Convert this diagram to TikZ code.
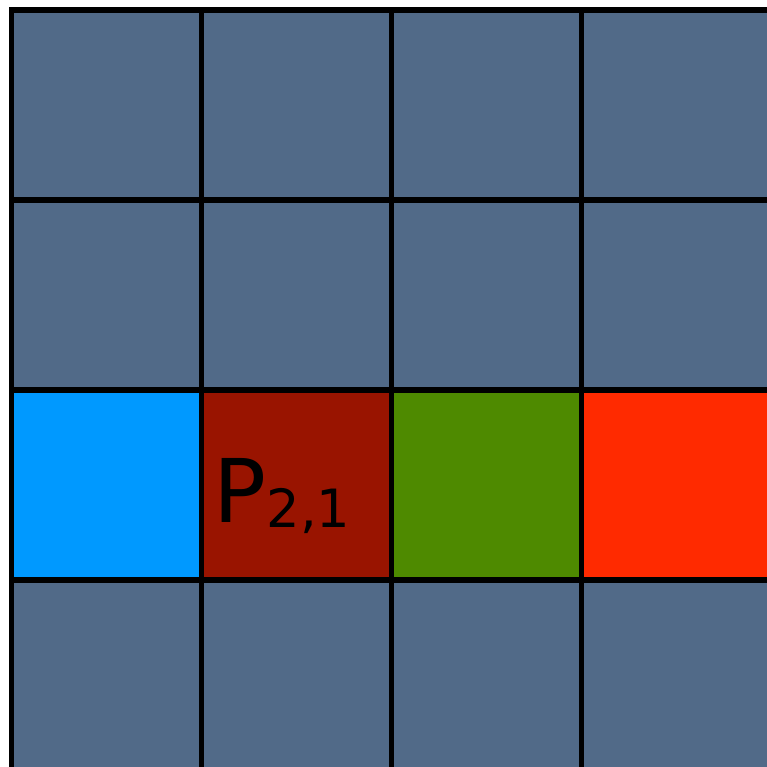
\documentclass[tikz,border=0pt]{standalone}
\usepackage{fontspec}
\setmainfont{DejaVu Sans}
\usetikzlibrary{positioning}
\definecolor{slate}{HTML}{516A88}
\definecolor{cblue}{HTML}{0099FF}
\definecolor{cdark}{HTML}{991400}
\definecolor{cgreen}{HTML}{4E8A00}
\definecolor{cred}{HTML}{FF2A00}

\begin{document}
\begin{tikzpicture}
\tikzstyle{cell}=[rectangle, draw=black, line width=1.7pt, minimum size=1.9cm, inner sep=0pt, outer sep=0pt, fill=slate]
\useasboundingbox (0,0) rectangle (7.67,-7.67);
\clip (0,0) rectangle (7.67,-7.67);
% plain rows
\foreach \r/\y in {0/-1.05, 1/-2.95, 3/-6.75}
  \foreach \c/\x in {0/1.065, 1/2.965, 2/4.865, 3/6.765}
    \node[cell] (c-\r-\c) at (\x,\y) {};
% coloured row
\foreach \c/\x/\col in {0/1.065/cblue, 1/2.965/cdark, 2/4.865/cgreen, 3/6.765/cred}
  \node[cell, fill=\col] (c-2-\c) at (\x,-4.85) {};
\node[anchor=base west, inner sep=0pt, font=\fontsize{25}{30}\selectfont] (plabel) at (2.13,-5.22) {P\raisebox{-0.05cm}{\fontsize{15}{18}\selectfont 2,1}};
\end{tikzpicture}
\end{document}
